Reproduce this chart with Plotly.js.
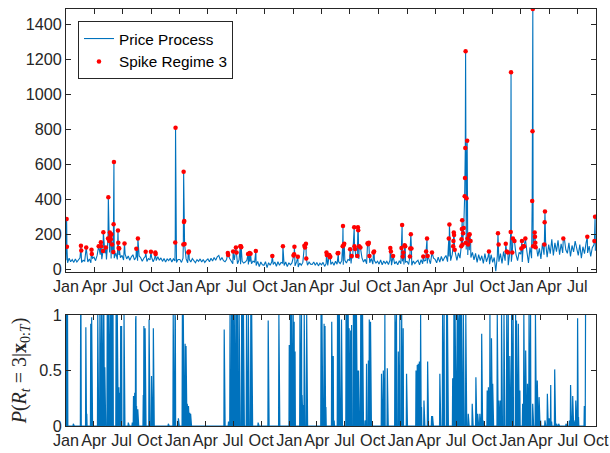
<!DOCTYPE html>
<html><head><meta charset="utf-8">
<script src="https://cdn.plot.ly/plotly-3.0.1.min.js"></script>
<style>body{margin:0;background:#fff}#chart{width:610px;height:453px}</style>
</head><body><div id="chart"></div>
<script>
// Base price level, one value every 5 days from Jan 1 of each year
const basePrice2008 = [50,36,62,42,55,38, 58,40,52,64,38,50, 45,66,40,58,36,62, 68,48,78,52,82,56, 72,90,55,80,95,60, 85,62,92,55,80,65, 78,52,85,58,75,50, 70,82,52,68,48,75, 65,45,62,72,44,60, 52,68,42,62,48,70, 50,64,44,60,40,58, 48,62,40,58,46,38,55];
const basePrice2009 = [55,38,62,42,58,36, 56,40,60,44,36,54, 44,58,40,55,38,50, 58,42,62,46,66,50, 70,78,50,66,48,42, 55,35,60,40,30,52, 46,30,52,28,44,34, 40,50,26,42,30,46, 38,20,44,14,40,25, 22,42,8,36,22,40, 26,40,16,42,22,38, 34,20,40,14,36,24,35];
const basePrice2010 = [38,18,42,12,34,22, 38,24,42,22,40,28, 26,40,22,38,18,34, 24,38,15,32,20,36, 26,40,22,45,28,42, 32,48,25,50,34,55, 50,32,62,38,68,42, 58,34,64,40,56,30, 52,36,60,28,48,34, 45,28,52,24,46,32, 44,26,50,22,45,30, 42,24,48,30,44,26,40];
const basePrice2011 = [44,26,50,22,46,30, 42,50,24,54,30,46, 50,32,58,30,54,62, 56,36,68,40,72,46, 64,78,42,72,48,84, 60,88,50,92,62,98, 100,72,112,80,108,66, 95,52,90,38,82,48, 76,32,88,42,70,28, 82,38,66,-12,76,42, 88,32,100,48,76,22, 92,42,106,28,82,48,96];
const basePrice2012 = [85,40,115,55,100,35, 125,62,108,48,138,72, 118,58,148,82,158,68, 140,88,170,78,150,100, 165,82,145,92,178,110, 90,150,72,135,98,160, 118,78,140,62,128,88, 148,92,132,72,122,138,105];
const baseYears = [2008,2009,2010,2011,2012];

// Spike regime observations: day number counted from 2008-01-01, and price
const spikeDay = [2,3,48,49,65,82,83,105,112,113,119,120,128,135,136,139,141,143,144,146,148,152,153,154,167,168,169,171,188,226,231,256,273,287,288,351,352,
 377,378,379,380,381,393,395,520,521,537,546,548,560,562,563,585,590,593,610,663,697,731,733,734,745,766,768,771,772,
 837,838,846,848,849,873,875,889,890,892,894,913,918,926,927,929,936,938,939,942,946,969,971,973,975,988,990,1042,1044,1051,1078,1080,1082,1084,1088,1090,
 1105,1106,1108,1110,1148,1157,1160,1162,1176,1230,1232,1244,1245,1246,1247,1249,1270,1271,1272,1273,1274,1276,1278,1281,1282,1283,1284,1285,1287,1289,1290,1292,1295,1297,1300,
 1359,1388,1390,1413,1416,1420,1429,1430,1434,1436,1441,1463,1465,1469,1472,1476,
 1498,1499,1500,1501,1506,1507,1508,1509,1537,1538,1539,1598,1675,1698,1700];
const spikePrice = [286,127,133,106,123,110,86,131,154,131,103,211,123,175,411,160,210,190,170,200,140,98,257,613,221,150,120,118,146,116,175,99,99,95,86,152,810,
 140,558,270,275,143,95,100,92,80,100,123,95,130,130,125,86,92,88,104,75,131,78,85,128,70,133,123,145,60,
 95,80,80,67,72,90,92,131,246,137,145,113,75,240,131,115,75,240,222,131,123,148,142,150,75,95,100,120,100,75,120,253,72,95,137,131,
 72,118,200,118,72,100,175,75,95,175,255,130,160,210,195,110,130,170,230,280,140,205,235,417,522,693,1248,150,405,735,175,140,195,200,160,
 100,205,140,145,100,95,212,1128,95,175,160,118,160,130,130,175,
 390,790,1490,130,210,185,150,125,140,268,330,175,185,160,300];

// Posterior probability of spike regime 3 (zero on all other days)
const probDay = [2,3,5,24,48,49,65,68,81,84,104,106,111,113,116,119,121,124,127,129,135,136,138,140,141,142,144,146,148,150,152,154,164,168,173,176,179,182,190,204,217,221,225,228,229,231,235,253,255,259,272,280,286,288,335,351,357,358,368,381,384,390,393,397,401,405,408,
 518,532,537,542,545,548,551,553,556,559,562,567,575,578,581,583,591,597,605,608,610,629,662,697,731,735,739,744,747,750,766,768,771,773,777,780,782,788,
 835,838,842,845,848,851,870,875,878,889,892,895,902,917,920,924,927,932,935,941,943,945,948,951,955,958,965,968,971,973,979,984,990,993,997,1033,1039,1044,1052,1077,1080,1082,1088,1093,1099,1104,1115,
 1146,1150,1153,1157,1161,1164,1172,1184,1197,1200,1224,1233,1238,1246,1249,1266,1270,1272,1274,1276,1279,1281,1283,1284,1286,1288,1290,1292,1295,1301,1309,1317,1330,1342,1348,1355,1361,1366,1379,1383,1388,1393,1397,1412,1416,1421,1424,1426,1434,1443,1448,1453,1459,1464,1472,1475,1481,1486,1495,
 1499,1505,1511,1516,1519,1521,1528,1530,1537,1543,1549,1554,1568,1576,1582,1587,1590,1600,1606,1613,1637,1648,1652,1659,1663,1669,1675,1678,1697,1701];
const probValue = [1,1,1,0.02,1,1,0.89,0.11,0.92,0.98,1,1,1,1,1,1,1,1,0.53,0.52,1,1,1,0.28,1,0.62,1,1,1,1,1,1,1,1,0.35,0.3,0.9,0.9,1,0.03,0.03,0.27,0.3,0.96,0.99,0.18,0.15,0.28,0.9,0.88,0.96,0.45,0.88,0.86,0.02,1,1,0.98,0.07,1,1,0.74,0.72,0.2,0.18,0.12,0.11,
 0.87,0.04,1,1,1,1,1,1,1,1,1,1,1,1,1,0.96,1,1,1,1,1,0.03,0.95,1,0.73,1,1,1,0.94,0.67,1,1,1,0.28,0.19,1,1,1,
 1,1,0.05,0.92,0.9,0.17,0.94,0.63,0.05,1,1,1,0.96,1,1,1,0.88,0.86,0.91,1,0.62,1,1,1,0.5,0.5,1,1,1,1,0.05,0.56,0.59,0.96,0.94,0.47,0.5,1,0.52,1,0.85,1,0.67,1,1,0.88,0.47,
 0.5,0.55,0.56,0.58,1,0.17,0.23,0.58,0.09,0.09,0.47,1,1,1,1,0.43,1,0.88,1,1,1,1,1,0.95,1,1,1,1,1,1,1,0.11,0.2,0.44,0.11,0.11,0.83,0.05,0.32,0.35,1,0.79,0.38,1,0.23,0.23,0.23,1,1,1,1,0.63,1,1,1,0.95,0.92,0.32,0.2,
 1,0.68,0.38,1,1,1,0.2,0.08,1,0.41,0.26,0.05,0.05,0.29,0.07,0.37,0.04,0.51,0.02,0.02,0.02,0.05,0.37,0.27,0.05,0.23,0.97,0.08,0.18,1];
const probLastDay = 1701;

const tickMonths = ['Jan','Apr','Jul','Oct'];
const tickMonthIndex = [0,3,6,9];

const T0 = Date.UTC(2008,0,1);
const DAY = 86400000;
function dayToDate(d){ return new Date(T0 + d*DAY).toISOString().slice(0,10); }

// build price line from base + spikes
const priceMap = new Map();
const baseArrays = [basePrice2008,basePrice2009,basePrice2010,basePrice2011,basePrice2012];
baseYears.forEach((yr, k) => {
  baseArrays[k].forEach((v, i) => {
    const d = Math.round((Date.UTC(yr,0,1+5*i) - T0)/DAY);
    priceMap.set(d, v);
  });
});
spikeDay.forEach((d, i) => priceMap.set(d, spikePrice[i]));
const priceDays = Array.from(priceMap.keys()).sort((a,b)=>a-b);
const priceX = priceDays.map(dayToDate);
const priceY = priceDays.map(d => priceMap.get(d));

// probability series
const probArr = new Array(probLastDay+1).fill(0);
probDay.forEach((d,i)=>{ probArr[d] = probValue[i]; });
const probX = probArr.map((_,d)=>dayToDate(d));

// ticks
const tickVals = [], tickText = [];
baseYears.forEach(yr => tickMonthIndex.forEach((m,j) => {
  tickVals.push(new Date(Date.UTC(yr,m,1)).toISOString().slice(0,10));
  tickText.push(tickMonths[j]);
}));

const blue = '#0072BD';
const axisCol = '#262626';
const tf = {family:'"Liberation Sans", Arial, sans-serif', size:16.2, color:axisCol};
const common = {showline:true, linecolor:axisCol, linewidth:1, mirror:'ticks', ticks:'inside', ticklen:5,
  tickcolor:axisCol, tickwidth:1, tickfont:tf, showgrid:false, zeroline:false, tickangle:0};

const traces = [
  {x:priceX, y:priceY, type:'scatter', mode:'lines', name:'Price Process',
   line:{color:blue, width:1.1}, xaxis:'x', yaxis:'y'},
  {x:spikeDay.map(dayToDate), y:spikePrice, type:'scatter', mode:'markers', name:'Spike Regime 3',
   marker:{color:'#FF0000', size:4.5}, xaxis:'x', yaxis:'y'},
  {x:probX, y:probArr, type:'scatter', mode:'lines', showlegend:false,
   line:{color:blue, width:1.2}, xaxis:'x2', yaxis:'y2'}
];

const layout = {
  width:610, height:453,
  margin:{l:66, r:14, t:9, b:27},
  paper_bgcolor:'#fff', plot_bgcolor:'#fff',
  showlegend:true,
  legend:{x:0.0226, y:0.971, xanchor:'left', yanchor:'top', bordercolor:axisCol, borderwidth:1,
    bgcolor:'#fff', font:{family:'"Liberation Sans", Arial, sans-serif', size:15.3, color:'#000'}, tracegroupgap:0},
  xaxis:Object.assign({}, common, {domain:[0,1], anchor:'y', type:'date',
    range:['2008-01-01','2012-08-30'], tickvals:tickVals, ticktext:tickText}),
  yaxis:Object.assign({}, common, {domain:[0.3693,1], anchor:'x', range:[-17,1490],
    tickvals:[0,200,400,600,800,1000,1200,1400]}),
  xaxis2:Object.assign({}, common, {domain:[0,1], anchor:'y2', type:'date',
    range:['2008-01-01','2012-10-01 06:00'], tickvals:tickVals, ticktext:tickText}),
  yaxis2:Object.assign({}, common, {domain:[0,0.2662], anchor:'x2', range:[0,1],
    tickvals:[0,0.5,1], ticktext:['0','0.5','1'],
    title:{text:'<i>P</i>(<i>R<sub>t</sub></i> = 3|<b>x</b><sub>0:<i>T</i></sub>)',
      font:{family:'"Liberation Serif", "DejaVu Serif", serif', size:20, color:axisCol}, standoff:7}})
};

Plotly.newPlot('chart', traces, layout, {displayModeBar:false, staticPlot:true});
</script>
</body></html>
